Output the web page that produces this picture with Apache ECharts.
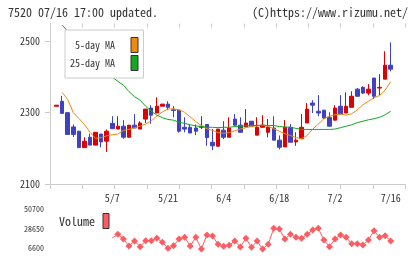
<!DOCTYPE html>
<html><head><meta charset="utf-8">
<script src="https://cdn.jsdelivr.net/npm/echarts@6/dist/echarts.min.js"></script>
<style>html,body{margin:0;padding:0;background:#fff}#c{width:420px;height:259px}</style>
</head><body><div id="c"></div>
<script>
// ---- data ----
const tickDays = [10, 20, 30, 40, 50, 60];
const tickLabels = ['5/7', '5/21', '6/4', '6/18', '7/2', '7/16'];
const priceTicks = [2100, 2300, 2500];
const volTicks = [6600, 28650, 50700];

const openP  = [2318,2332,2300,2260,2248,2202,2231,2209,2240,2220,2270,2254,2262,2231,2265,2254,2282,2313,2299,2318,2324,2308,2307,2259,2259,2257,2259,2267,2217,2206,2251,2231,2282,2265,2260,2276,2237,2259,2245,2257,2223,2204,2259,2218,2227,2271,2327,2304,2307,2287,2279,2318,2299,2315,2366,2371,2355,2397,2369,2394,2433];
const closeP = [2321,2298,2239,2239,2202,2220,2209,2245,2218,2248,2255,2262,2231,2265,2257,2271,2310,2293,2318,2324,2315,2306,2248,2254,2243,2248,2262,2230,2207,2254,2231,2257,2265,2245,2271,2262,2259,2265,2259,2223,2203,2259,2217,2223,2259,2310,2321,2299,2285,2262,2313,2296,2318,2346,2346,2355,2366,2346,2371,2433,2422];
const lowP   = [2318,2298,2239,2232,2202,2202,2209,2209,2203,2190,2255,2254,2227,2231,2257,2254,2271,2269,2299,2318,2307,2287,2244,2245,2243,2237,2254,2207,2195,2204,2226,2231,2262,2245,2260,2262,2237,2259,2231,2223,2197,2204,2217,2207,2227,2271,2299,2290,2282,2262,2279,2296,2299,2315,2346,2352,2349,2338,2349,2394,2416];
const highP  = [2321,2347,2302,2267,2248,2231,2241,2245,2240,2253,2290,2290,2279,2265,2296,2276,2310,2321,2343,2324,2332,2318,2307,2287,2268,2267,2290,2267,2254,2254,2276,2287,2296,2287,2310,2276,2287,2293,2282,2290,2236,2279,2268,2245,2296,2327,2335,2349,2307,2301,2321,2349,2357,2360,2369,2374,2380,2397,2408,2472,2497];

const ma5 = ['-',2357,2337,2300,2284,2267,2245,2228,2230,2235,2238,2240,2250,2253,2258,2262,2268,2277,2290,2302,2310,2311,2308,2301,2288,2275,2264,2255,2250,2244,2242,2244,2249,2254,2258,2261,2263,2265,2262,2255,2248,2241,2236,2230,2227,2236,2254,2268,2283,2290,2294,2296,2293,2297,2308,2322,2332,2342,2348,2363,2387];
const ma25 = ['-',2545,2529,2515,2501,2487,2472,2458,2441,2422,2400,2388,2377,2359,2345,2335,2318,2304,2293,2286,2281,2279,2273,2270,2266,2263,2261,2259,2259,2258,2259,2259,2261,2262,2263,2264,2264,2265,2264,2264,2261,2260,2259,2256,2253,2253,2253,2253,2253,2253,2254,2258,2262,2266,2272,2276,2280,2283,2287,2294,2304];
const volume = ['-','-','-','-','-','-','-','-','-','-',18200,22300,17000,9200,14800,8400,15100,15100,17800,13300,6600,9500,17000,18900,9200,18900,5800,21500,20400,11100,8800,10000,14800,8100,17800,7700,14800,5800,11100,29000,28300,17000,22300,18900,17800,22300,27100,29000,15900,8400,17000,21500,18900,11800,11800,10300,15900,26400,18900,20700,14800];

// ---- build ----
const PAD_L = 1, PAD_R = 3;
const N = PAD_L + openP.length + PAD_R;
const cats = [];
for (let k = 0; k < N; k++) cats.push('d' + (k - PAD_L));
const labelMap = {};
tickDays.forEach((d, j) => { labelMap['d' + d] = tickLabels[j]; });
const pad = a => Array(PAD_L).fill('-').concat(a, Array(PAD_R).fill('-'));
const candles = Array(PAD_L).fill(['-','-','-','-']).concat(
  openP.map((o, i) => [o, closeP[i], lowP[i], highP[i]]),
  Array(PAD_R).fill(['-','-','-','-']));

const F = '"Noto Sans Mono CJK JP", "DejaVu Sans Mono", monospace';
const AX = '#cccccc';
const TXT = '#333333';
const plain = v => String(v);

const chart = echarts.init(document.getElementById('c'), null, {renderer: 'canvas'});
chart.setOption({
  animation: false,
  backgroundColor: '#ffffff',
  title: [
    {text: '7520 07/16 17:00 updated.', left: 8, top: 6, padding: 0,
     textStyle: {fontFamily: F, fontSize: 12, fontWeight: 'normal', color: TXT}},
    {text: '(C)https://www.rizumu.net/', right: 12, top: 6, padding: 0,
     textStyle: {fontFamily: F, fontSize: 12, fontWeight: 'normal', color: TXT}}
  ],
  legend: [
    {data: ['5-day MA', '25-day MA'], orient: 'vertical', left: 65, top: 30,
     align: 'right', icon: 'rect', itemWidth: 7, itemHeight: 15, itemGap: 2,
     padding: [7, 5, 7, 5], backgroundColor: '#ffffff', borderColor: AX, borderWidth: 1,
     selectedMode: false,
     itemStyle: {borderColor: '#333333', borderWidth: 1},
     textStyle: {fontFamily: F, fontSize: 10, color: TXT, padding: [0, 11, 0, 0]}},
    {data: ['Volume'], left: 59, top: 213, align: 'right', icon: 'rect',
     itemWidth: 6, itemHeight: 15, padding: 0, selectedMode: false,
     itemStyle: {borderColor: '#333333', borderWidth: 1},
     textStyle: {fontFamily: F, fontSize: 12, color: TXT, padding: [0, 3, 0, 0]}}
  ],
  grid: [
    {left: 51, top: 23.5, width: 356.4, height: 160.5},
    {left: 50, top: 23.5, width: 355.3, height: 160.5},
    {left: 51, top: 209, width: 356.4, height: 39.3}
  ],
  xAxis: [
    {type: 'category', gridIndex: 0, data: cats, boundaryGap: false,
     axisLine: {show: false}, axisTick: {show: false}, splitLine: {show: false},
     axisLabel: {interval: (i, v) => labelMap[v] !== undefined, formatter: v => labelMap[v] || '',
                 fontFamily: F, fontSize: 10, color: TXT, margin: 9}},
    {type: 'value', gridIndex: 1, min: 0, max: 11, interval: 1,
     axisLine: {show: true, lineStyle: {color: AX}}, axisTick: {show: true, length: 5, lineStyle: {color: AX}},
     axisLabel: {show: false}, splitLine: {show: false}},
    {type: 'value', gridIndex: 1, min: 0, max: 11, interval: 1,
     axisLine: {show: false}, axisTick: {show: true, inside: true, length: 4, lineStyle: {color: AX}},
     axisLabel: {show: false}, splitLine: {show: false}},
    {type: 'category', gridIndex: 2, data: cats, boundaryGap: false, show: false}
  ],
  yAxis: [
    {type: 'value', gridIndex: 0, min: 2100, max: 2550, show: false, splitLine: {show: false}},
    {type: 'value', gridIndex: 1, min: 2100, max: 2550,
     axisLine: {show: true, lineStyle: {color: AX}},
     axisTick: {show: true, length: 5, customValues: priceTicks, lineStyle: {color: AX}},
     axisLabel: {customValues: priceTicks, formatter: plain, fontFamily: F, fontSize: 10, color: TXT, margin: 10},
     splitLine: {show: false}},
    {type: 'value', gridIndex: 1, min: 2100, max: 2550,
     axisLine: {show: false},
     axisTick: {show: true, inside: true, length: 3, customValues: priceTicks, lineStyle: {color: AX}},
     axisLabel: {show: false}, splitLine: {show: false}},
    {type: 'value', gridIndex: 2, min: volTicks[0], max: volTicks[2], interval: volTicks[1] - volTicks[0],
     axisLine: {show: false}, axisTick: {show: false}, splitLine: {show: false},
     axisLabel: {formatter: plain, fontFamily: F, fontSize: 8, color: TXT, margin: 7}}
  ],
  series: [
    {type: 'candlestick', name: 'price', xAxisIndex: 0, yAxisIndex: 0, data: candles,
     barWidth: 4,
     itemStyle: {color: '#dd0000', color0: '#3f42c0', borderColor: '#dd0000', borderColor0: '#3f42c0', borderWidth: 1}},
    {type: 'line', name: '5-day MA', xAxisIndex: 0, yAxisIndex: 0, data: pad(ma5),
     symbol: 'none', itemStyle: {color: '#f08a10'}, lineStyle: {color: '#f08a10', width: 1}, z: 3},
    {type: 'line', name: '25-day MA', xAxisIndex: 0, yAxisIndex: 0, data: pad(ma25),
     symbol: 'none', itemStyle: {color: '#12a820'}, lineStyle: {color: '#12a820', width: 1}, z: 3},
    {type: 'line', name: 'Volume', xAxisIndex: 3, yAxisIndex: 3, data: pad(volume),
     clip: false, symbol: 'diamond', showAllSymbol: true,
     symbolSize: (v, p) => (p.dataIndex === PAD_L + 10 ? 0 : 7),
     itemStyle: {color: '#ff5c62'}, lineStyle: {color: '#ff5c62', width: 1}}
  ]
});
</script></body></html>
